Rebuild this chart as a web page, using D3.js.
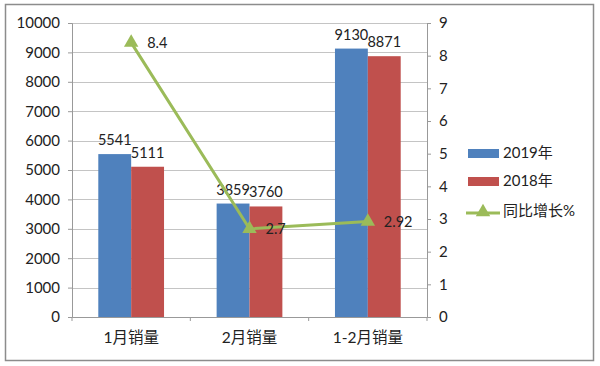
<!DOCTYPE html>
<html>
<head>
<meta charset="utf-8">
<script src="https://cdn.jsdelivr.net/npm/d3@7"></script>
<style>
  body { margin: 0; background: #fff; }
  text { font-family: Lato, "Noto Sans CJK SC", sans-serif; fill: #222; }
</style>
</head>
<body>
<div id="chart"></div>
<script>
// data
const categories = ['1月销量', '2月销量', '1-2月销量'];
const sales2019 = [5541, 3859, 9130];
const sales2018 = [5111, 3760, 8871];
const growth = [8.4, 2.7, 2.92];
const seriesNames = ['2019年', '2018年', '同比增长%'];
const leftTicks = d3.range(0, 10001, 1000);
const rightTicks = d3.range(0, 10, 1);

const W = 600, H = 366;
const plot = {left: 72, right: 427, top: 23, bottom: 317};
const colors = {y2019: '#4F81BD', y2018: '#C0504D', growth: '#9BBB59'};

const svg = d3.select('#chart').append('svg')
    .attr('width', W).attr('height', H);

// outer frame
svg.append('rect')
    .attr('x', 5.5).attr('y', 4.5)
    .attr('width', 588).attr('height', 356)
    .attr('fill', '#fff').attr('stroke', '#8c8c8c').attr('stroke-width', 1.5);

// scales
const x = d3.scaleBand().domain(categories).range([plot.left, plot.right]);
const xInner = d3.scaleBand().domain(['y2019', 'y2018'])
    .range([0, x.bandwidth()]).paddingOuter(0.8);
const yL = d3.scaleLinear().domain([0, 10000]).range([plot.bottom, plot.top]);
const yR = d3.scaleLinear().domain([0, 9]).range([plot.bottom, plot.top]);

// gridlines
svg.append('g').selectAll('line')
    .data(leftTicks)
  .enter().append('line')
    .attr('x1', plot.left).attr('x2', plot.right)
    .attr('y1', d => Math.round(yL(d)) + 0.5).attr('y2', d => Math.round(yL(d)) + 0.5)
    .attr('stroke', '#c4c4c4');

// left axis
const gL = svg.append('g')
    .attr('transform', `translate(${plot.left},0)`)
    .call(d3.axisLeft(yL).tickValues(leftTicks).tickFormat(d3.format('d')).tickSize(4).tickPadding(8));
gL.selectAll('text').style('font-size', '15px');

// right axis
const gR = svg.append('g')
    .attr('transform', `translate(${plot.right},0)`)
    .call(d3.axisRight(yR).tickValues(rightTicks).tickSize(4).tickPadding(8));
gR.selectAll('text').style('font-size', '15px');

// bottom axis
const gB = svg.append('g')
    .attr('transform', `translate(0,${plot.bottom})`)
    .call(d3.axisBottom(x).tickSize(0).tickPadding(15));
gB.selectAll('text').style('font-size', '15.5px');
// category separators
gB.selectAll('line.sep')
    .data(d3.range(categories.length + 1))
  .enter().append('line')
    .attr('class', 'sep')
    .attr('x1', i => plot.left + i * x.step()).attr('x2', i => plot.left + i * x.step())
    .attr('y1', 0).attr('y2', 4)
    .attr('stroke', '#999');

[gL, gR, gB].forEach(g => {
  g.select('.domain').attr('stroke', '#999');
  g.selectAll('.tick line').attr('stroke', '#999');
});

// bars
const bars = [
  {key: 'y2019', values: sales2019},
  {key: 'y2018', values: sales2018}
];
bars.forEach(s => {
  const grp = svg.append('g');
  grp.selectAll('rect')
      .data(s.values)
    .enter().append('rect')
      .attr('x', (d, i) => x(categories[i]) + xInner(s.key))
      .attr('y', d => yL(d))
      .attr('width', xInner.bandwidth())
      .attr('height', d => yL(0) - yL(d))
      .attr('fill', colors[s.key]);
  grp.selectAll('text')
      .data(s.values)
    .enter().append('text')
      .attr('x', (d, i) => x(categories[i]) + xInner(s.key) + xInner.bandwidth() / 2)
      .attr('y', d => yL(d) - 9)
      .attr('text-anchor', 'middle')
      .style('font-size', '14.5px')
      .text(d => d);
});

// growth line
const line = d3.line()
    .x((d, i) => x(categories[i]) + x.bandwidth() / 2)
    .y(d => yR(d));
svg.append('path')
    .datum(growth)
    .attr('d', line)
    .attr('fill', 'none')
    .attr('stroke', colors.growth)
    .attr('stroke-width', 3);

const tri = d3.symbol().type(d3.symbolTriangle).size(90);
svg.append('g').selectAll('path')
    .data(growth)
  .enter().append('path')
    .attr('d', tri)
    .attr('transform', (d, i) => `translate(${x(categories[i]) + x.bandwidth() / 2},${yR(d)})`)
    .attr('fill', colors.growth);

svg.append('g').selectAll('text')
    .data(growth)
  .enter().append('text')
    .attr('x', (d, i) => x(categories[i]) + x.bandwidth() / 2 + 16)
    .attr('y', d => yR(d) + 5)
    .style('font-size', '14.5px')
    .text(d => d);

// legend
const legend = svg.append('g').attr('transform', 'translate(466,0)');
const legY = [153, 181, 211];
legend.append('rect').attr('x', 2).attr('y', legY[0] - 4).attr('width', 31).attr('height', 9).attr('fill', colors.y2019);
legend.append('rect').attr('x', 2).attr('y', legY[1] - 4).attr('width', 31).attr('height', 9).attr('fill', colors.y2018);
legend.append('line').attr('x1', 0).attr('x2', 34).attr('y1', legY[2] + 2).attr('y2', legY[2] + 2)
    .attr('stroke', colors.growth).attr('stroke-width', 3);
legend.append('path').attr('d', tri).attr('transform', `translate(17,${legY[2] + 1})`).attr('fill', colors.growth);
legend.selectAll('text.leg')
    .data(seriesNames)
  .enter().append('text')
    .attr('class', 'leg')
    .attr('x', 37)
    .attr('y', (d, i) => legY[i] + 5)
    .style('font-size', '15px')
    .text(d => d);
</script>
</body>
</html>
